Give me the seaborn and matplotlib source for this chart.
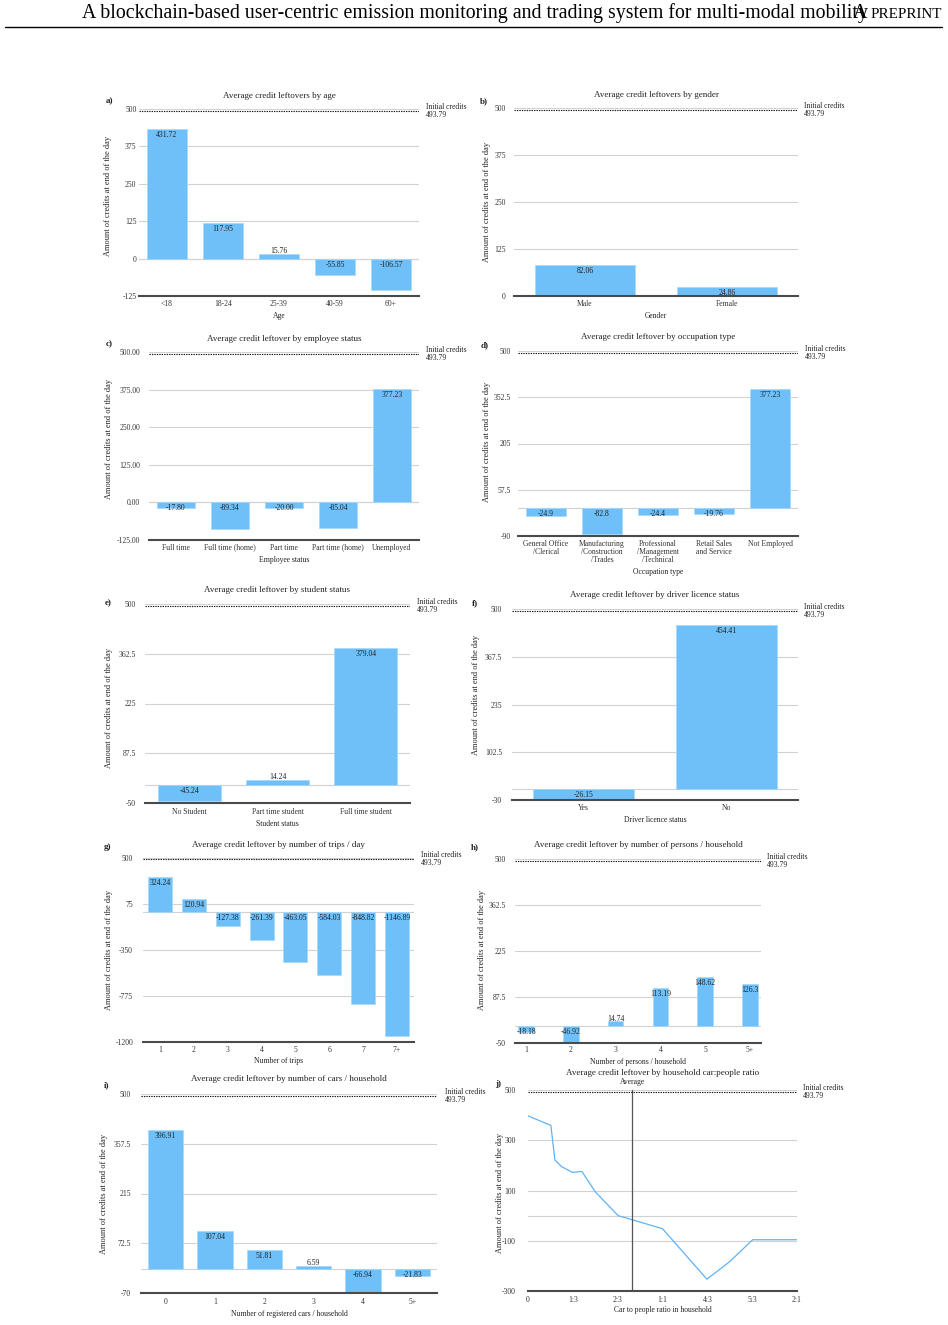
import matplotlib
matplotlib.use("Agg")
import matplotlib.pyplot as plt
from matplotlib.lines import Line2D
import seaborn as sns
import pandas as pd

W, H, DPI = 948, 1325, 100

# ---------------- data ----------------
initial_credits = 493.79

age_labels = ["<18", "18-24", "25-39", "40-59", "60+"]
age_values = [431.72, 117.95, 15.76, -55.85, -106.57]

gender_labels = ["Male", "Female"]
gender_values = [82.06, 24.86]

employee_labels = ["Full time", "Full time (home)", "Part time", "Part time (home)", "Unemployed"]
employee_values = [-17.80, -89.34, -20.00, -85.04, 377.23]

occupation_labels = ["General Office\n/Clerical", "Manufacturing\n/Construction\n/Trades",
                     "Professional\n/Management\n/Technical", "Retail Sales\nand Service", "Not Employed"]
occupation_values = [-24.9, -82.8, -24.4, -19.76, 377.23]

student_labels = ["No Student", "Part time student", "Full time student"]
student_values = [-45.24, 14.24, 379.04]

licence_labels = ["Yes", "No"]
licence_values = [-26.15, 454.41]

trips_labels = ["1", "2", "3", "4", "5", "6", "7", "7+"]
trips_values = [324.24, 120.94, -127.38, -261.39, -463.05, -584.03, -848.82, -1146.89]

persons_labels = ["1", "2", "3", "4", "5", "5+"]
persons_values = [-18.18, -46.92, 14.74, 113.19, 148.62, 126.3]

cars_labels = ["0", "1", "2", "3", "4", "5+"]
cars_values = [396.91, 107.04, 51.81, 6.59, -66.94, -21.83]

ratio_x = [0, 0.17, 0.2, 0.25, 0.33, 0.4, 0.5, 0.67, 1.0, 1.33, 1.5, 1.67, 2.0]
ratio_y = [397, 359, 221, 195, 172, 176, 95, 0, -52, -253, -183, -96, -96]
ratio_ticks = [0, 1/3, 2/3, 1, 4/3, 5/3, 2]
ratio_tick_labels = ["0", "1:3", "2:3", "1:1", "4:3", "5:3", "2:1"]
average_ratio = 0.775

# ---------------- style ----------------
sns.set_theme(style="white")
plt.rcParams["font.family"] = ["Liberation Serif", "DejaVu Serif"]
plt.rcParams["axes.unicode_minus"] = False

BAR = "#6fc0f8"
EDGE = "#a6d8fb"
TXT = "#222222"
TICK = "#333333"
GRID = "#d2d2d2"
PT = DPI / 72.0
FS = 5.5

fig = plt.figure(figsize=(W / DPI, H / DPI), dpi=DPI)

YLAB = "Amount of credits at end of the day"

panels = [
    dict(letter="a)", box=(139, 109, 419, 296), labels=age_labels, values=age_values,
         ylim=(-125, 500), yticks=[-125, 0, 125, 250, 375, 500], yfmt="{:g}", vfmt="{:g}",
         title="Average credit leftovers by age", title_y=96, letter_xy=(109, 101), init_x=426,
         ylab_xy=(108, 196), xtick_y=304, xlabel="Age", xlabel_y=316, ygap=2.6),
    dict(letter="b)", box=(514, 108, 798, 296), labels=gender_labels, values=gender_values,
         ylim=(0, 500), yticks=[0, 125, 250, 375, 500], yfmt="{:g}", vfmt="{:g}",
         title="Average credit leftovers by gender", title_y=95, letter_xy=(484, 101), init_x=804,
         ylab_xy=(487, 202), xtick_y=304, xlabel="Gender", xlabel_y=316, ygap=8),
    dict(letter="c)", box=(149, 352, 419, 540), labels=employee_labels, values=employee_values,
         ylim=(-125, 500), yticks=[-125, 0, 125, 250, 375, 500], yfmt="{:.2f}", vfmt="{:.2f}",
         title="Average credit leftover by employee status", title_y=339, letter_xy=(109, 344), init_x=426,
         ylab_xy=(109, 439), xtick_y=547, xlabel="Employee status", xlabel_y=560, ygap=9),
    dict(letter="d)", box=(518, 351, 798, 536), labels=occupation_labels, values=occupation_values,
         ylim=(-90, 500), yticks=[-90, 57.5, 205, 352.5, 500], yfmt="{:g}", vfmt="{:g}",
         title="Average credit leftover by occupation type", title_y=337, letter_xy=(485, 345), init_x=805,
         ylab_xy=(487, 442), xtick_y=543, xlabel="Occupation type", xlabel_y=572, ygap=7),
    dict(letter="e)", box=(145, 604, 410, 803), labels=student_labels, values=student_values,
         ylim=(-50, 500), yticks=[-50, 87.5, 225, 362.5, 500], yfmt="{:g}", vfmt="{:g}",
         title="Average credit leftover by student status", title_y=590, letter_xy=(108, 603), init_x=417,
         ylab_xy=(109, 708), xtick_y=811, xlabel="Student status", xlabel_y=824, ygap=9),
    dict(letter="f)", box=(512, 609, 798, 800), labels=licence_labels, values=licence_values,
         ylim=(-30, 500), yticks=[-30, 102.5, 235, 367.5, 500], yfmt="{:g}", vfmt="{:g}",
         title="Average credit leftover by driver licence status", title_y=595, letter_xy=(475, 603), init_x=804,
         ylab_xy=(476, 695), xtick_y=808, xlabel="Driver licence status", xlabel_y=820, ygap=10),
    dict(letter="g)", box=(143, 858, 414, 1042), labels=trips_labels, values=trips_values,
         ylim=(-1200, 500), yticks=[-1200, -775, -350, 75, 500], yfmt="{:g}", vfmt="{:g}",
         title="Average credit leftover by number of trips / day", title_y=845, letter_xy=(108, 847), init_x=421,
         ylab_xy=(109, 950), xtick_y=1049, xlabel="Number of trips", xlabel_y=1061, ygap=10),
    dict(letter="h)", box=(515, 859, 761, 1043), labels=persons_labels, values=persons_values,
         ylim=(-50, 500), yticks=[-50, 87.5, 225, 362.5, 500], yfmt="{:g}", vfmt="{:g}",
         title="Average credit leftover by number of persons / household", title_y=845, letter_xy=(475, 847),
         init_x=767, ylab_xy=(482, 950), xtick_y=1050, xlabel="Number of persons / household", xlabel_y=1062,
         ygap=9, width=0.35, xmargin=0.25),
    dict(letter="i)", box=(141, 1094, 437, 1293), labels=cars_labels, values=cars_values,
         ylim=(-70, 500), yticks=[-70, 72.5, 215, 357.5, 500], yfmt="{:g}", vfmt="{:g}",
         title="Average credit leftover by number of cars / household", title_y=1079, letter_xy=(107, 1085),
         init_x=445, ylab_xy=(104, 1194), xtick_y=1302, xlabel="Number of registered cars / household",
         xlabel_y=1314, ygap=10),
]


def make_axes(box):
    l, t, r, b = box
    return fig.add_axes([l / W, 1 - b / H, (r - l) / W, (b - t) / H])


def decorate(ax, p):
    l, t, r, b = p["box"]
    fx = lambda px: (px - l) / (r - l)
    fy = lambda py: (b - py) / (b - t)
    ax.set_ylim(*p["ylim"])
    ax.set_yticks(p["yticks"])
    ax.set_yticklabels([p["yfmt"].format(v) for v in p["yticks"]])
    ax.tick_params(axis="y", length=0, pad=p["ygap"] / PT, labelsize=FS, labelcolor=TICK)
    ax.tick_params(axis="x", length=0, pad=max(0.0, p["xtick_y"] - b - 3.5) / PT,
                   labelsize=FS, labelcolor=TICK)
    for lab in ax.get_xticklabels():
        lab.set_linespacing(1.05)
    ax.grid(False)
    ax.yaxis.grid(True, color=GRID, lw=0.8)
    ax.set_axisbelow(True)
    for s in ["left", "right", "top"]:
        ax.spines[s].set_visible(False)
    ax.spines["bottom"].set_color("#4a4a4a")
    ax.spines["bottom"].set_linewidth(1.5)
    ax.axhline(0, color=GRID, lw=0.8, zorder=0.5)
    ax.axhline(initial_credits, color="#111111", lw=0.8, ls=(0, (1.2, 1.0)), zorder=3)
    ax.annotate("Initial credits\n" + f"{initial_credits:.2f}", xy=(1, initial_credits),
                xycoords=ax.get_yaxis_transform(), xytext=((p["init_x"] - r) / PT, 0),
                textcoords="offset points", ha="left", va="center", fontsize=FS,
                color=TXT, linespacing=1.0)
    ax.set_title(p["title"], fontsize=6.5, color=TXT, y=fy(p["title_y"]), va="center", pad=0)
    ax.set_xlabel(p["xlabel"], fontsize=FS, color=TXT)
    ax.xaxis.set_label_coords(0.5, fy(p["xlabel_y"]))
    ax.xaxis.label.set_va("center")
    ax.set_ylabel(YLAB, fontsize=6, color=TXT)
    ax.yaxis.set_label_coords(fx(p["ylab_xy"][0]), fy(p["ylab_xy"][1]))
    ax.yaxis.label.set_va("center")
    lx, ly = p["letter_xy"]
    fig.text(lx / W, 1 - ly / H, p["letter"], fontsize=6.5, fontweight="bold",
             ha="center", va="center", color=TXT)


for p in panels:
    ax = make_axes(p["box"])
    df = pd.DataFrame({"cat": p["labels"], "val": p["values"]})
    sns.barplot(data=df, x="cat", y="val", ax=ax, color=BAR, saturation=1,
                width=p.get("width", 0.71), errorbar=None, edgecolor=EDGE, linewidth=0.5)
    n = len(p["labels"])
    m = p.get("xmargin", 0.5)
    ax.set_xlim(-m, n - 1 + m)
    decorate(ax, p)
    span = p["ylim"][1] - p["ylim"][0]
    for patch, v in zip(ax.patches, p["values"]):
        xc = patch.get_x() + patch.get_width() / 2
        txt = p["vfmt"].format(v)
        if v >= 0 and v / span < 0.035:
            ax.annotate(txt, xy=(xc, v), xytext=(0, 2), textcoords="offset points",
                        ha="center", va="center", fontsize=FS, color=TXT, zorder=4)
        else:
            ax.annotate(txt, xy=(xc, max(v, 0)), xytext=(0, -4.3), textcoords="offset points",
                        ha="center", va="center", fontsize=FS, color=TXT, zorder=4)

# ---------------- panel j (line) ----------------
pj = dict(letter="j)", box=(528, 1090, 797, 1291), ylim=(-300, 500), yticks=[-300, -100, 100, 300, 500],
          yfmt="{:g}", title="Average credit leftover by household car:people ratio", title_y=1073,
          letter_xy=(498, 1084), init_x=803, ylab_xy=(500, 1193), xtick_y=1300,
          xlabel="Car to people ratio in household", xlabel_y=1310, ygap=12)
axj = make_axes(pj["box"])
sns.lineplot(x=ratio_x, y=ratio_y, ax=axj, color="#5fb3f4", lw=0.9)
axj.set_xlim(0, 2)
axj.set_xticks(ratio_ticks)
axj.set_xticklabels(ratio_tick_labels)
decorate(axj, pj)
axj.axvline(average_ratio, color="#555555", lw=0.9, zorder=2)
axj.annotate("Average", xy=(average_ratio, 1), xycoords=axj.get_xaxis_transform(),
             xytext=(0, 8 / PT), textcoords="offset points", ha="center", va="center",
             fontsize=FS, color=TXT)

# ---------------- header ----------------
fig.text(82 / W, 1 - 13.5 / H,
         "A blockchain-based user-centric emission monitoring and trading system for multi-modal mobility",
         ha="left", va="center", fontsize=14.3, color="black")
fig.text(860 / W, 1 - 13.5 / H, "A", ha="center", va="center", fontsize=14.3, color="black")
fig.text(942 / W, 1 - 14.5 / H, "PREPRINT", ha="right", va="center", fontsize=10.8, color="black")
fig.add_artist(Line2D([5 / W, 942 / W], [1 - 27 / H, 1 - 27 / H], color="black", lw=1.0))

fig.savefig("out.png", dpi=DPI)
